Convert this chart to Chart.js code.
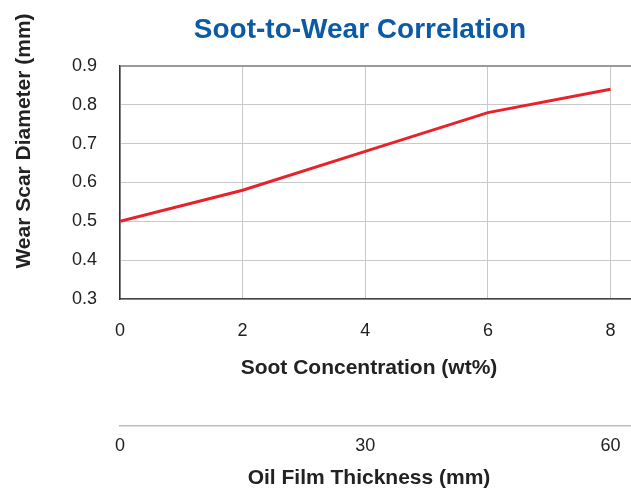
<!DOCTYPE html>
<html>
<head>
<meta charset="utf-8">
<script src="https://cdn.jsdelivr.net/npm/chart.js@4.4.1/dist/chart.umd.min.js"></script>
<style>
  html, body { margin: 0; padding: 0; background: #ffffff; }
  #wrap { width: 631px; height: 488px; }
</style>
</head>
<body>
<div id="wrap"><canvas id="c" width="631" height="488"></canvas></div>
<script>
// ---- data ----
const sootConcentration = [0, 2, 4, 6, 8];
const wearScarDiameter = [0.50, 0.58, 0.68, 0.78, 0.84];
const yTickValues = [0.3, 0.4, 0.5, 0.6, 0.7, 0.8, 0.9];
const oilFilmTicks = [0, 30, 60];
const chartTitle = 'Soot-to-Wear Correlation';
const xTitle = 'Soot Concentration (wt%)';
const x2Title = 'Oil Film Thickness (mm)';
const yTitle = 'Wear Scar Diameter (mm)';

const FONT = '"Liberation Sans", Arial, Helvetica, sans-serif';
const xMax = 8.334;
const filmPerSoot = 7.5;

const titlesPlugin = {
  id: 'customTitles',
  afterDraw(chart) {
    const ctx = chart.ctx;
    ctx.save();
    ctx.textAlign = 'center';
    ctx.textBaseline = 'middle';
    ctx.fillStyle = '#0b5aa6';
    ctx.font = 'bold 28px ' + FONT;
    ctx.fillText(chartTitle, 360, 30);
    ctx.fillStyle = '#222222';
    ctx.font = 'bold 21px ' + FONT;
    ctx.fillText(xTitle, 369, 368);
    ctx.fillText(x2Title, 369, 478);
    ctx.translate(24, 141);
    ctx.rotate(-Math.PI / 2);
    ctx.fillText(yTitle, 0, 0);
    ctx.restore();
  }
};

function fixHorizontal(h) {
  return s => { s.height = h; s.paddingLeft = 0; s.paddingRight = 0; };
}

new Chart(document.getElementById('c'), {
  type: 'line',
  data: {
    datasets: [{
      data: sootConcentration.map((x, i) => ({ x: x, y: wearScarDiameter[i] })),
      borderColor: '#e8222b',
      borderWidth: 3,
      pointRadius: 0,
      tension: 0,
      fill: false
    }]
  },
  options: {
    responsive: false,
    animation: false,
    devicePixelRatio: 1,
    layout: { padding: { top: 66, left: 0, right: 0, bottom: 0 } },
    plugins: { legend: { display: false }, title: { display: false }, tooltip: { enabled: false } },
    scales: {
      x: {
        type: 'linear',
        position: 'bottom',
        min: 0,
        max: xMax,
        afterFit: fixHorizontal(127),
        ticks: {
          stepSize: 2,
          includeBounds: false,
          padding: 21,
          color: '#222222',
          font: { family: FONT, size: 18 },
          maxRotation: 0
        },
        grid: { color: '#c9c9c9', lineWidth: 1, drawTicks: false },
        border: { color: '#444444', width: 1.5 }
      },
      x2: {
        type: 'linear',
        position: 'bottom',
        min: 0,
        max: xMax * filmPerSoot,
        afterFit: fixHorizontal(62),
        afterBuildTicks: s => { s.ticks = oilFilmTicks.map(v => ({ value: v })); },
        ticks: {
          padding: 9,
          color: '#222222',
          font: { family: FONT, size: 18 },
          maxRotation: 0
        },
        grid: { display: false, drawTicks: false },
        border: { color: '#bdbdbd', width: 1.5 }
      },
      y: {
        type: 'linear',
        min: 0.3,
        max: 0.9,
        afterFit: s => { s.width = 120; },
        afterBuildTicks: s => { s.ticks = yTickValues.map(v => ({ value: v })); },
        ticks: {
          padding: 23,
          color: '#222222',
          font: { family: FONT, size: 18 },
          callback: v => Number(v).toFixed(1)
        },
        grid: {
          drawTicks: false,
          color: ctx => (ctx.tick && Math.abs(ctx.tick.value - 0.9) < 1e-6) ? '#9a9a9a' : '#c9c9c9',
          lineWidth: ctx => (ctx.tick && Math.abs(ctx.tick.value - 0.9) < 1e-6) ? 2 : 1
        },
        border: { color: '#333333', width: 1.5 }
      }
    }
  },
  plugins: [titlesPlugin]
});
</script>
</body>
</html>
